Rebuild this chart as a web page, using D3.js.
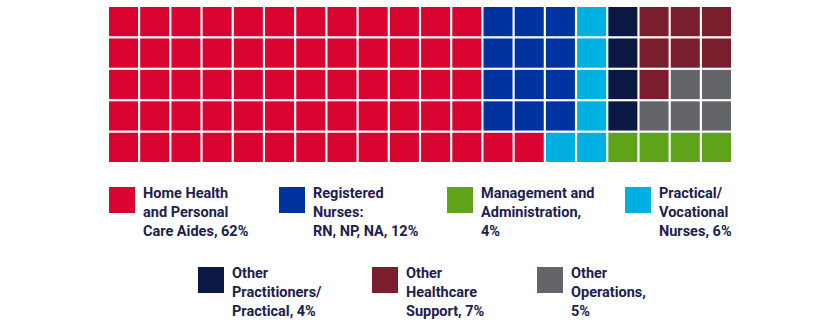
<!DOCTYPE html>
<html>
<head>
<meta charset="utf-8">
<script src="https://cdn.jsdelivr.net/npm/d3@7"></script>
<style>
  body { margin: 0; background: #fff; }
  text { font-family: "Liberation Sans Narrow", "Roboto", sans-serif; font-weight: bold; }
</style>
</head>
<body>
<svg id="chart" width="820" height="330"></svg>
<script>
// categories, in legend order
var keys = ["H", "R", "M", "P", "T", "S", "O"]
var labels = [
  ["Home Health", "and Personal", "Care Aides, 62%"],
  ["Registered", "Nurses:", "RN, NP, NA, 12%"],
  ["Management and", "Administration,", "4%"],
  ["Practical/", "Vocational", "Nurses, 6%"],
  ["Other", "Practitioners/", "Practical, 4%"],
  ["Other", "Healthcare", "Support, 7%"],
  ["Other", "Operations,", "5%"]
]
var values = [62, 12, 4, 6, 4, 7, 5]
var colors = ["#d9042f", "#0033a0", "#5fa31a", "#00b0e0", "#0c1844", "#7a1e2e", "#636569"]

// one letter per cell, row by row (100 cells = 100%)
var grid = [
  "HHHHHHHHHHHHRRRPTSSS",
  "HHHHHHHHHHHHRRRPTSSS",
  "HHHHHHHHHHHHRRRPTSOO",
  "HHHHHHHHHHHHRRRPTOOO",
  "HHHHHHHHHHHHHHPPMMMM"
]

var svg = d3.select("#chart")
var color = d3.scaleOrdinal().domain(keys).range(colors)

var cols = d3.range(grid[0].length)
var rows = d3.range(grid.length)
var x = d3.scaleBand().domain(cols).range([109, 731]).paddingInner(0.07).paddingOuter(0)
var y = d3.scaleBand().domain(rows).range([7, 162]).paddingInner(0.07).paddingOuter(0)

var cells = []
grid.forEach(function(r, i){
  r.split("").forEach(function(k, j){ cells.push({row: i, col: j, key: k}) })
})

svg.append("g").selectAll("rect")
  .data(cells)
  .enter()
  .append("rect")
    .attr("x", d => x(d.col))
    .attr("y", d => y(d.row))
    .attr("width", x.bandwidth())
    .attr("height", y.bandwidth())
    .style("fill", d => color(d.key))

// legend spots, two rows
var spots = [[109, 187], [279, 187], [447, 187], [625, 187], [198, 267], [372, 267], [537, 267]]

var lg = svg.append("g").selectAll("g")
  .data(keys)
  .enter()
  .append("g")
    .attr("transform", (d, i) => "translate(" + spots[i][0] + "," + spots[i][1] + ")")

lg.append("rect")
  .attr("width", 26)
  .attr("height", 26)
  .style("fill", d => color(d))

lg.append("text")
  .attr("x", 34)
  .attr("y", 11)
  .style("fill", "#1c2150")
  .style("font-size", "14.5px")
  .selectAll("tspan")
  .data((d, i) => labels[i])
  .enter()
  .append("tspan")
    .attr("x", 34)
    .attr("dy", (d, i) => i ? 19 : 0)
    .text(d => d)
</script>
</body>
</html>
